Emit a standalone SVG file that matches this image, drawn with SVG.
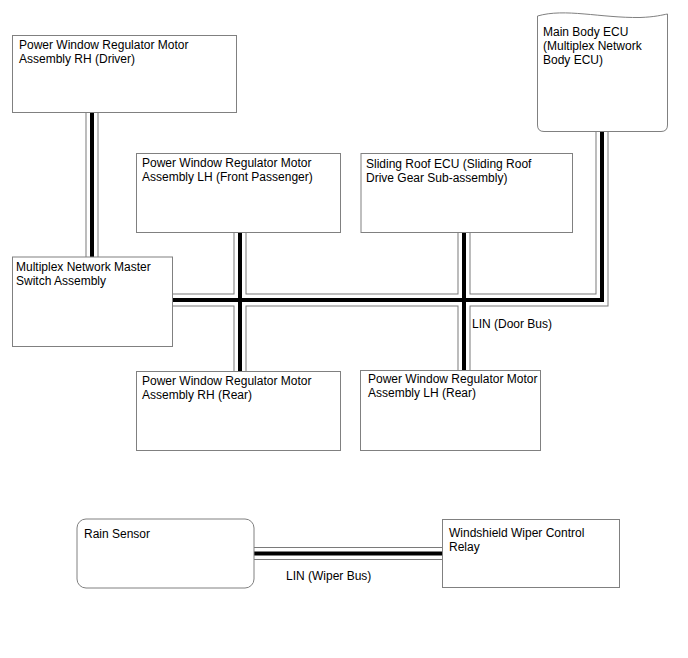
<svg xmlns="http://www.w3.org/2000/svg" width="688" height="658" viewBox="0 0 688 658">
<style>
.box{fill:#fff;stroke:#808080;stroke-width:1}
text{font-family:"Liberation Sans",Arial,sans-serif;font-size:12px;fill:#000}
.bo{fill:none;stroke:#7a7a7a;stroke-width:13;stroke-linejoin:miter}
.bw{fill:none;stroke:#fff;stroke-width:11;stroke-linejoin:miter}
.bk{fill:none;stroke:#000;stroke-width:4;stroke-linejoin:miter}
</style>
<defs>
<g id="bus">
<path d="M92,112 V257"/>
<path d="M172,300 H602 V130"/>
<path d="M240,232 V371"/>
<path d="M464,232 V370"/>
<path d="M254,553.5 H442"/>
</g>
</defs>
<g id="connectors">
<use href="#bus" class="bo"/>
<use href="#bus" class="bw"/>
<use href="#bus" class="bk"/>
<text x="472" y="328">LIN (Door Bus)</text>
<text x="286" y="580">LIN (Wiper Bus)</text>
</g>
<g id="pw-rh-driver">
<rect class="box" x="12.5" y="35.5" width="224" height="77"/>
<text x="19" y="49">Power Window Regulator Motor</text>
<text x="19" y="63">Assembly RH (Driver)</text>
</g>
<g id="main-body-ecu">
<path class="box" d="M537.5,16 C565,8 600,18 640,17.5 C655,17 662,15 667.5,14 V125 Q667.5,131.5 661,131.5 H544 Q537.5,131.5 537.5,125 Z"/>
<text x="543" y="36">Main Body ECU</text>
<text x="543" y="50">(Multiplex Network</text>
<text x="543" y="64">Body ECU)</text>
</g>
<g id="pw-lh-front">
<rect class="box" x="136.5" y="153.5" width="204" height="79"/>
<text x="142" y="167">Power Window Regulator Motor</text>
<text x="142" y="181">Assembly LH (Front Passenger)</text>
</g>
<g id="sliding-roof-ecu">
<rect class="box" x="361" y="153.5" width="211.5" height="79"/>
<text x="366" y="168">Sliding Roof ECU (Sliding Roof</text>
<text x="366" y="182">Drive Gear Sub-assembly)</text>
</g>
<g id="master-switch">
<rect class="box" x="12.5" y="257" width="160" height="89.5"/>
<text x="16" y="271">Multiplex Network Master</text>
<text x="16" y="285">Switch Assembly</text>
</g>
<g id="pw-rh-rear">
<rect class="box" x="136.5" y="371.5" width="204" height="79"/>
<text x="142" y="385">Power Window Regulator Motor</text>
<text x="142" y="399">Assembly RH (Rear)</text>
</g>
<g id="pw-lh-rear">
<rect class="box" x="360.5" y="370.5" width="180" height="80"/>
<text x="368" y="383">Power Window Regulator Motor</text>
<text x="368" y="397">Assembly LH (Rear)</text>
</g>
<g id="rain-sensor">
<rect class="box" x="77" y="519" width="177" height="69" rx="9"/>
<text x="84" y="538">Rain Sensor</text>
</g>
<g id="wiper-relay">
<rect class="box" x="442.5" y="519.5" width="177" height="68"/>
<text x="449" y="537">Windshield Wiper Control</text>
<text x="449" y="551">Relay</text>
</g>
</svg>
